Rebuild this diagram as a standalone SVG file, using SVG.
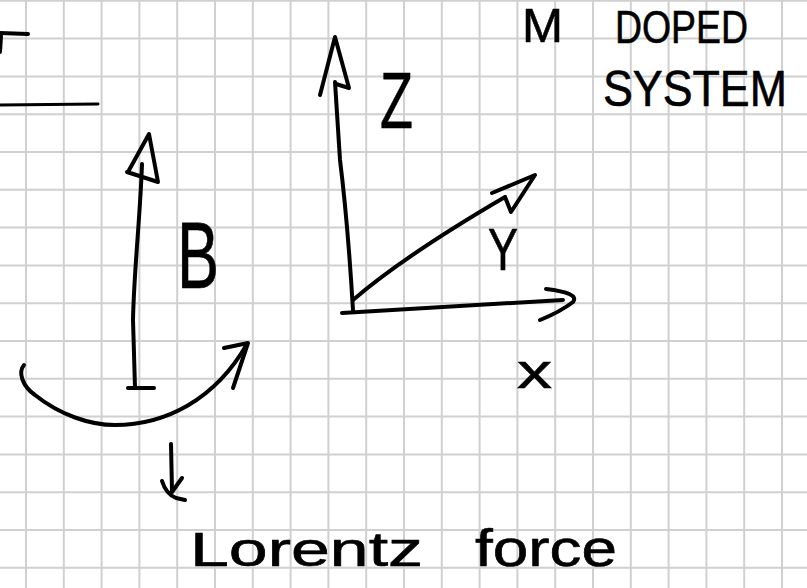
<svg xmlns="http://www.w3.org/2000/svg" width="807" height="588" viewBox="0 0 807 588">
<defs>
<style>
.grid{stroke:#d0d0d0;stroke-width:2;fill:none}
.ink{stroke:#000;stroke-width:4;fill:none;stroke-linecap:round;stroke-linejoin:round}
.lbl{font-family:"Liberation Sans","DejaVu Sans",sans-serif;fill:#000;stroke:#000;stroke-width:0.6}
</style>
</defs>
<rect width="807" height="588" fill="#fff"/>
<g id="grid" class="grid">
<path d="M26,0V588M63.8,0V588M101.6,0V588M139.4,0V588M177.2,0V588M215,0V588M252.8,0V588M290.6,0V588M328.4,0V588M366.2,0V588M404,0V588M441.8,0V588M479.6,0V588M517.4,0V588M555.2,0V588M593,0V588M630.8,0V588M668.6,0V588M706.4,0V588M744.2,0V588M782,0V588"/>
<path d="M0,0.8H807M0,38.6H807M0,76.4H807M0,114.2H807M0,152H807M0,189.8H807M0,227.6H807M0,265.4H807M0,303.2H807M0,341H807M0,378.8H807M0,416.6H807M0,454.4H807M0,492.2H807M0,530H807M0,567.8H807"/>
</g>
<g id="fragment" class="ink">
<path d="M0,33 L28,34"/>
<path d="M1,36 L0,52"/>
<path d="M0,105 L98,104" stroke-width="3"/>
</g>
<g id="connectors" class="ink">
<g id="b-arrow">
<path d="M142,164 C140,220 134,270 133,320 L135,388"/>
<path d="M128,172 L149,134 L158,182 L127,172"/>
<path d="M128,388 L154,388"/>
</g>
<g id="rotation-arrow">
<path d="M24,365 C18,372 22,386 35,395 C60,415 90,425 115,425 C165,425 215,400 247,344"/>
<path d="M224,348 L248,343 L233,388"/>
</g>
<g id="down-arrow">
<path d="M171,444 L172,491"/>
<path d="M162,481 Q166,494 176,498 L185,500"/>
<path d="M182,478 L172,492"/>
</g>
<g id="z-axis">
<path d="M353,310 C350,260 345,200 340,160 L335,82"/>
<path d="M320,95 L335,37 L349,88 L336,84"/>
</g>
<g id="y-axis">
<path d="M353,300 C390,268 440,235 505,197"/>
<path d="M492,193 L535,175 L511,212 L505,197"/>
</g>
<g id="x-axis">
<path d="M342,313 L563,300"/>
<path d="M546,289 Q580,293 573,302 Q560,312 540,320"/>
</g>
</g>
<g id="label-b"><text class="lbl" x="177" y="288" font-size="95" textLength="42" lengthAdjust="spacingAndGlyphs">B</text></g>
<g id="label-z"><text class="lbl" x="380" y="128" font-size="80" textLength="33" lengthAdjust="spacingAndGlyphs">Z</text></g>
<g id="label-y"><text class="lbl" x="488" y="270" font-size="60" textLength="30" lengthAdjust="spacingAndGlyphs">Y</text></g>
<g id="label-x"><text class="lbl" x="517" y="388" font-size="48" textLength="35" lengthAdjust="spacingAndGlyphs">x</text></g>
<g id="title">
<text class="lbl" x="522" y="42" font-size="48" textLength="41" lengthAdjust="spacingAndGlyphs">M</text>
<text class="lbl" x="615" y="43" font-size="46" textLength="133" lengthAdjust="spacingAndGlyphs">DOPED</text>
<text class="lbl" x="603" y="106" font-size="50" textLength="184" lengthAdjust="spacingAndGlyphs">SYSTEM</text>
</g>
<g id="caption">
<text class="lbl" x="190" y="566" font-size="48" textLength="233" lengthAdjust="spacingAndGlyphs">Lorentz</text>
<text class="lbl" x="475" y="566" font-size="52" textLength="142" lengthAdjust="spacingAndGlyphs">force</text>
</g>
</svg>
